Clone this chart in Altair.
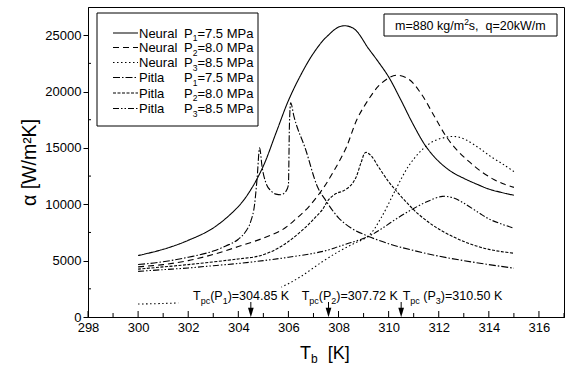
import altair as alt
import pandas as pd

FONT = "Arial"

# ---------------- data ----------------
series_names = ["Neural P1", "Neural P2", "Neural P3", "Pitla P1", "Pitla P2", "Pitla P3"]

t_n1 = [300, 301, 302, 303, 304, 304.5, 305, 305.5, 306, 306.5, 307, 307.5, 308.1, 308.6, 309.2, 309.6, 310, 310.5, 311, 311.5, 312, 312.5, 313, 313.5, 314, 314.5, 315]
a_n1 = [5450, 6000, 6800, 7900, 9800, 11300, 13400, 16300, 19200, 21500, 23400, 24800, 25800, 25600, 23800, 22600, 21300, 19200, 17000, 15100, 13800, 12900, 12300, 11800, 11350, 11050, 10800]

t_n2 = [300, 301, 302, 303, 304, 305, 305.75, 306.3, 306.82, 307.35, 307.8, 308.3, 308.75, 309.2, 309.6, 310, 310.3, 310.8, 311.3, 311.8, 312.3, 312.73, 313.2, 313.7, 314.2, 314.6, 315]
a_n2 = [4450, 4650, 5000, 5550, 6250, 7000, 7730, 8700, 9800, 11300, 12900, 15000, 17600, 19300, 20500, 21200, 21450, 21100, 19800, 17900, 16000, 14800, 13800, 12900, 12200, 11800, 11500]

t_n3 = [300, 301, 302, 303, 304, 305, 305.76, 306.5, 307.35, 308, 308.6, 309.2, 309.7, 310.28, 310.8, 311.34, 311.8, 312.3, 312.7, 313.1, 313.6, 314.1, 314.6, 315]
a_n3 = [1150, 1200, 1300, 1500, 1800, 2200, 2700, 3600, 4900, 5800, 6500, 7200, 8800, 11300, 13400, 14850, 15600, 15950, 16000, 15700, 15000, 14200, 13500, 12900]

t_p1 = [300, 301, 302, 303, 303.5, 304, 304.3, 304.5, 304.65, 304.75, 304.85, 304.95, 305.1, 305.3, 305.5, 305.7, 305.9, 306.0, 306.04, 306.09, 306.22, 306.69, 307.15, 307.5, 308, 308.5, 309.2, 310, 311, 312, 313, 314, 315]
a_p1 = [4650, 4900, 5300, 5850, 6300, 6900, 7600, 8500, 10000, 12300, 15000, 13300, 11900, 11200, 10900, 10850, 11150, 11700, 17000, 19000, 17800, 14840, 11600, 10300, 8800, 7900, 7150, 6500, 5900, 5400, 5000, 4650, 4330]

t_p2 = [300, 302, 304, 304.8, 305.5, 306, 306.4, 306.8, 307.1, 307.35, 307.6, 307.9, 308.2, 308.5, 308.7, 308.9, 309.08, 309.3, 309.6, 310, 310.3, 310.7, 311.1, 311.6, 312, 312.5, 313, 313.5, 314, 314.5, 315]
a_p2 = [4250, 4650, 5150, 5400, 6000, 6700, 7400, 8200, 8900, 9500, 10400, 10950, 11200, 11700, 12400, 13700, 14600, 14300, 13300, 12000, 11200, 10200, 9300, 8400, 7800, 7200, 6700, 6300, 6000, 5800, 5660]

t_p3 = [300, 301, 302, 303, 304, 305, 306, 307, 307.6, 308, 308.5, 309.2, 309.7, 310.3, 310.9, 311.5, 312.15, 312.6, 313, 313.6, 314, 314.5, 315]
a_p3 = [4050, 4200, 4350, 4550, 4750, 5000, 5300, 5650, 5950, 6250, 6600, 7150, 7800, 8700, 9500, 10200, 10700, 10550, 10100, 9250, 8700, 8250, 7880]

x_major = [298, 300, 302, 304, 306, 308, 310, 312, 314, 316]
x_minor = [299, 301, 303, 305, 307, 309, 311, 313, 315, 317]
y_major = [0, 5000, 10000, 15000, 20000, 25000]
y_minor = [2500, 7500, 12500, 17500, 22500]

tpc_arrow_T = [304.5, 307.6, 310.5]
tpc_values = ["304.85", "307.72", "310.50"]

legend_params = ["7.5", "8.0", "8.5", "7.5", "8.0", "8.5"]

# ---------------- helpers ----------------
series_ts = [t_n1, t_n2, t_n3, t_p1, t_p2, t_p3]
series_as = [a_n1, a_n2, a_n3, a_p1, a_p2, a_p3]
rows = []
for name, ts, al in zip(series_names, series_ts, series_as):
    for t, a in zip(ts, al):
        rows.append({"series": name, "T": t, "alpha": a})
df = pd.DataFrame(rows)

dashes = [[1, 0], [6, 4], [1.5, 2.5], [7, 2, 1.5, 2], [3, 1.5], [6, 2, 1.5, 2, 1.5, 2]]
dash_scale = alt.Scale(domain=series_names, range=dashes)

W_, H_ = 476, 310
xscale = alt.Scale(domain=[298, 317], nice=False, zero=False)
yscale = alt.Scale(domain=[0, 27500], nice=False, zero=True)
xaxis = alt.Axis(values=x_major, title="", ticks=False, grid=False, labelPadding=4,
                 labelFont=FONT, labelFontSize=13, labelColor="black", domainColor="black",
                 labelFlush=False, format="d")
yaxis = alt.Axis(values=y_major, title="α [W/m²K]", format="d", grid=False, tickSize=5,
                 tickColor="black", labelPadding=2, labelFont=FONT, labelFontSize=13,
                 labelColor="black", domainColor="black", titleFont=FONT, titleFontSize=19.5,
                 titleFontWeight="normal", titleColor="black", titlePadding=5)


def xenc(f):
    return alt.X(f, type="quantitative", scale=xscale, axis=xaxis)


def yenc(f):
    return alt.Y(f, type="quantitative", scale=yscale, axis=yaxis)


one = pd.DataFrame({"k": [0]})

WID = {" ": 278, "(": 333, ")": 333, ".": 278, "/": 278, "=": 584, "K": 667, "M": 833,
       "N": 722, "P": 667, "T": 611, "W": 944, "[": 278, "]": 278, "a": 556, "c": 500,
       "e": 556, "g": 556, "i": 222, "k": 500, "l": 222, "m": 833, "p": 556, "q": 556,
       "r": 333, "s": 500, "t": 278, "u": 556, "b": 556, ",": 278}


def tw(s, size):
    return sum(WID.get(ch, 556) for ch in s) * size / 1000.0


def rich(pieces, x0, y0, size, small, sub_dy=4, sup_dy=-6):
    out = []
    x = x0
    for txt, kind in pieces:
        fs, dy = size, 0
        if kind == "sub":
            fs, dy = small, sub_dy
        elif kind == "sup":
            fs, dy = small, sup_dy
        lead = len(txt) - len(txt.lstrip(" "))
        x += tw(" " * lead, fs)
        body = txt.lstrip(" ")
        if body:
            out.append(
                alt.Chart(one).mark_text(text=body, font=FONT, fontSize=fs, align="left",
                                         baseline="alphabetic", color="black")
                .encode(x=alt.value(x), y=alt.value(y0 + dy))
            )
        x += tw(body, fs)
    return out


layers = []

# smooth curves (all but the spiky Pitla P1)
smooth_df = df[df["series"] != "Pitla P1"]
spiky_df = df[df["series"] == "Pitla P1"]
layers.append(
    alt.Chart(smooth_df).mark_line(color="black", strokeWidth=1.1, interpolate="catmull-rom").encode(
        x=xenc("T"), y=yenc("alpha"),
        strokeDash=alt.StrokeDash("series:N", scale=dash_scale, legend=None),
        order="T:Q",
    )
)
layers.append(
    alt.Chart(spiky_df).mark_line(color="black", strokeWidth=1.1, interpolate="monotone").encode(
        x=xenc("T"), y=yenc("alpha"),
        strokeDash=alt.StrokeDash("series:N", scale=dash_scale, legend=None),
        order="T:Q",
    )
)

# white patch behind the first T_pc label (hides the dotted line, as in the original)
patch = pd.DataFrame({"x1": [301.6], "x2": [305.72], "y1": [700], "y2": [2780]})
layers.append(
    alt.Chart(patch).mark_rect(color="white").encode(
        x=xenc("x1"), x2="x2", y=yenc("y1"), y2="y2")
)

# inward x ticks
layers.append(alt.Chart(pd.DataFrame({"t": x_major})).mark_rule(color="black", strokeWidth=1)
              .encode(x=xenc("t"), y=alt.value(H_ - 6), y2=alt.value(H_)))
layers.append(alt.Chart(pd.DataFrame({"t": x_minor})).mark_rule(color="black", strokeWidth=1)
              .encode(x=xenc("t"), y=alt.value(H_ - 4), y2=alt.value(H_ + 1)))
# inward minor y ticks
layers.append(alt.Chart(pd.DataFrame({"v": y_minor})).mark_rule(color="black", strokeWidth=1)
              .encode(y=yenc("v"), x=alt.value(0), x2=alt.value(3)))

# T_pc arrows
arr = pd.DataFrame({"t": tpc_arrow_T})
layers.append(alt.Chart(arr).mark_rule(color="black", strokeWidth=1)
              .encode(x=xenc("t"), y=alt.value(295), y2=alt.value(303)))
layers.append(alt.Chart(arr).mark_point(shape="M -0.6 -1 L 0.6 -1 L 0 1 Z", filled=True,
                                        color="black", opacity=1, size=90, strokeWidth=0)
              .encode(x=xenc("t"), y=alt.value(305.5)))

# T_pc labels
tpc_x = [105, 213.7, 314.7]
for i, (xx, val) in enumerate(zip(tpc_x, tpc_values)):
    sep = " " if i == 2 else ""
    pieces = [("T", "n"), ("pc", "sub"), (sep + "(P", "n"), (str(i + 1), "sub"), (")=" + val + " K", "n")]
    layers += rich(pieces, xx, 292.5, 12.5, 9, sub_dy=4.5)

# legend box
layers.append(alt.Chart(one).mark_rect(fill="white", stroke="black", strokeWidth=1)
              .encode(x=alt.value(9), x2=alt.value(170), y=alt.value(6), y2=alt.value(119)))
row_mid = [26, 40.5, 55.5, 70.5, 86, 101.5]
for i, name in enumerate(series_names):
    ym = row_mid[i]
    sample = pd.DataFrame({"series": [name]})
    layers.append(
        alt.Chart(sample).mark_rule(color="black", strokeWidth=1.1).encode(
            x=alt.value(25), x2=alt.value(50), y=alt.value(ym),
            strokeDash=alt.StrokeDash("series:N", scale=dash_scale, legend=None),
        )
    )
    model = name.split(" ")[0]
    layers += rich([(model, "n")], 51, ym + 4.5, 13, 9)
    layers += rich([("P", "n"), (str(i % 3 + 1), "sub"), ("=" + legend_params[i] + " MPa", "n")],
                   96, ym + 4.5, 13, 8.5, sub_dy=3.5)

# condition box
layers.append(alt.Chart(one).mark_rect(fill="white", stroke="black", strokeWidth=1)
              .encode(x=alt.value(296), x2=alt.value(469), y=alt.value(7), y2=alt.value(29)))
layers += rich([("m=880 kg/m", "n"), ("2", "sup"), ("s,", "n"), ("  q=20kW/m", "n")],
               307, 22.5, 12.5, 8.5, sup_dy=-5)

# x axis title
layers += rich([("T", "n"), ("b", "sub"), ("  [K]", "n")], 212, 352, 18, 12, sub_dy=4)

chart = alt.layer(*layers).properties(
    width=W_, height=H_,
    autosize=alt.AutoSizeParams(type="none"),
    padding={"left": 88, "top": 7, "right": 3, "bottom": 49},
    background="white",
).configure_view(stroke="black", strokeWidth=1).configure_axis(domainWidth=1, tickWidth=1)

chart.save("out.html", embed_options={"renderer": "svg", "actions": False})
